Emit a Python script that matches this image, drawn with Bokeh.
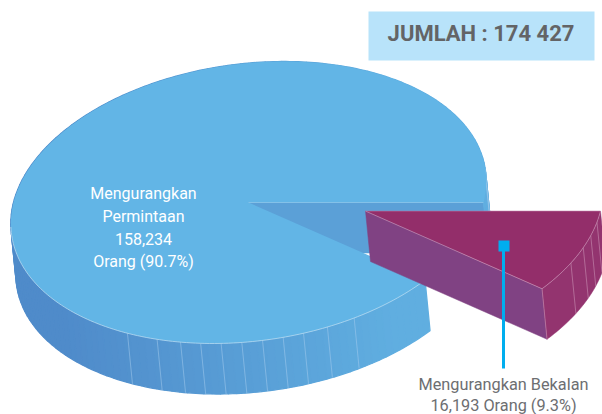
import numpy as np
from bokeh.plotting import figure
from bokeh.models import Range1d
from bokeh.core.properties import value
from bokeh.embed import file_html
from bokeh.resources import INLINE

# ---- data
categories = ["Mengurangkan Permintaan", "Mengurangkan Bekalan"]
values = [158234, 16193]
percent_labels = ["90.7%", "9.3%"]
total_label = "JUMLAH : 174 427"
main_label = ["Mengurangkan", "Permintaan", "158,234", "Orang (90.7%)"]
side_label = ["Mengurangkan Bekalan", "16,193 Orang (9.3%)"]

# ---- projection of the tilted pie (pixel-like data space)
CENTER = np.array([248.0, 202.0])
AXIS_U = np.array([235.0, 0.0])
AXIS_V = np.array([-35.6, 141.0])
DEPTH = np.array([5.0, 50.5])
EXPLODE = np.array([117.0, 8.6])
FONT = value("Roboto")

slice_deg = 360.0 * values[1] / sum(values)


def pts(t_deg, origin=CENTER, shift=(0.0, 0.0)):
    t = np.radians(np.asarray(t_deg, dtype=float))
    x = origin[0] + np.cos(t) * AXIS_U[0] + np.sin(t) * AXIS_V[0] + shift[0]
    y = origin[1] + np.cos(t) * AXIS_U[1] + np.sin(t) * AXIS_V[1] + shift[1]
    return x, y


def mix(c1, c2, f):
    f = min(max(f, 0.0), 1.0)
    a = [int(c1[i:i + 2], 16) for i in (1, 3, 5)]
    b = [int(c2[i:i + 2], 16) for i in (1, 3, 5)]
    return "#%02x%02x%02x" % tuple(round(a[i] + (b[i] - a[i]) * f) for i in range(3))


p = figure(width=602, height=414, output_backend="svg", toolbar_location=None,
           x_range=Range1d(0, 602), y_range=Range1d(414, 0),
           min_border=0, outline_line_color=None, background_fill_color="white",
           border_fill_color="white")
p.axis.visible = False
p.grid.visible = False

# ---- big slice: back wall of the notch
ex, ey = pts([0.0])
wall = [CENTER[0], ex[0], ex[0] + DEPTH[0], CENTER[0] + DEPTH[0]]
wally = [CENTER[1], ey[0], ey[0] + DEPTH[1], CENTER[1] + DEPTH[1]]
p.patch(wall, wally, fill_color="#5ba0d7", line_color="#5ba0d7", line_width=0.5)

# ---- big slice: rim, shaded strip by strip
rim_xs, rim_ys, rim_cs = [], [], []
for a in np.arange(slice_deg, 360.0, 2.0):
    b = min(a + 2.0, 360.0)
    tt = np.linspace(a, b, 3)
    x0, y0 = pts(tt)
    x1, y1 = pts(tt[::-1], shift=DEPTH)
    rim_xs.append(np.r_[x0, x1])
    rim_ys.append(np.r_[y0, y1])
    mx = (x0.mean() - 60.0) / 330.0
    rim_cs.append(mix("#4f8bca", "#60aee0", mx))
p.patches(rim_xs, rim_ys, fill_color=rim_cs, line_color=rim_cs, line_width=1.3)

# hairlines across the rim
for t in [55, 62, 68, 73, 78, 83, 88, 93, 98, 104, 112, 352, 346]:
    x0, y0 = pts([t])
    p.line([x0[0], x0[0] + DEPTH[0]], [y0[0], y0[0] + DEPTH[1]],
           line_color="#a9cfee", line_width=0.7, line_alpha=0.7)

# ---- big slice: top face
tt = np.linspace(slice_deg, 360.0, 361)
x, y = pts(tt)
p.patch(np.r_[CENTER[0], x], np.r_[CENTER[1], y], fill_color="#62b5e6", line_color=None)
front = np.linspace(slice_deg, 170.0, 120)
fx, fy = pts(front)
p.line(fx, fy, line_color="#c3e1f4", line_width=0.7)
p.line([CENTER[0], ex[0]], [CENTER[1], ey[0]], line_color="#8cc6ea", line_width=0.7)

# ---- exploded slice
APEX = CENTER + EXPLODE
cx, cy = pts([slice_deg], origin=APEX)
# straight wall facing the viewer
p.patch([APEX[0], cx[0], cx[0] + DEPTH[0], APEX[0] + DEPTH[0]],
        [APEX[1], cy[0], cy[0] + DEPTH[1], APEX[1] + DEPTH[1]],
        fill_color="#804283", line_color="#804283", line_width=0.5)
# rim
tt = np.linspace(0.0, slice_deg, 60)
x0, y0 = pts(tt, origin=APEX)
x1, y1 = pts(tt[::-1], origin=APEX, shift=DEPTH)
p.patch(np.r_[x0, x1], np.r_[y0, y1], fill_color="#93346f", line_color="#93346f", line_width=0.5)
for t in [4.5, 10, 15, 21.6, slice_deg]:
    x2, y2 = pts([t], origin=APEX)
    p.line([x2[0], x2[0] + DEPTH[0]], [y2[0], y2[0] + DEPTH[1]],
           line_color="#c68bb0", line_width=0.7, line_alpha=0.9)
# top face
p.patch(np.r_[APEX[0], x0], np.r_[APEX[1], y0], fill_color="#932e6a", line_color=None)
p.line(x0, y0, line_color="#c98fb4", line_width=0.7)
p.line([APEX[0], cx[0]], [APEX[1], cy[0]], line_color="#c98fb4", line_width=0.7)
p.line([APEX[0], x0[0]], [APEX[1], y0[0]], line_color="#b9769f", line_width=0.6)

# ---- total box
p.quad(left=[368], right=[594], top=[11], bottom=[60], fill_color="#b8e3fa", line_color=None)
p.text([480.5], [33], text=[total_label], text_font_size="22px", text_color="#636466",
       text_font=FONT, text_font_style="bold",
       text_align="center", text_baseline="middle")

# ---- labels
p.text([143] * 4, [193, 216, 238, 261], text=main_label, text_font_size="16px",
       text_color="#ffffff", text_font=FONT,
       text_align="center", text_baseline="middle")
p.line([503, 503], [245, 368], line_color="#00aeef", line_width=3)
p.quad(left=[498], right=[509], top=[240], bottom=[251], fill_color="#00aeef", line_color=None)
p.text([503] * 2, [384, 405], text=side_label, text_font_size="16.3px",
       text_color="#6d6e71", text_font=FONT,
       text_align="center", text_baseline="middle")

open("out.html", "w").write(file_html(p, INLINE))
